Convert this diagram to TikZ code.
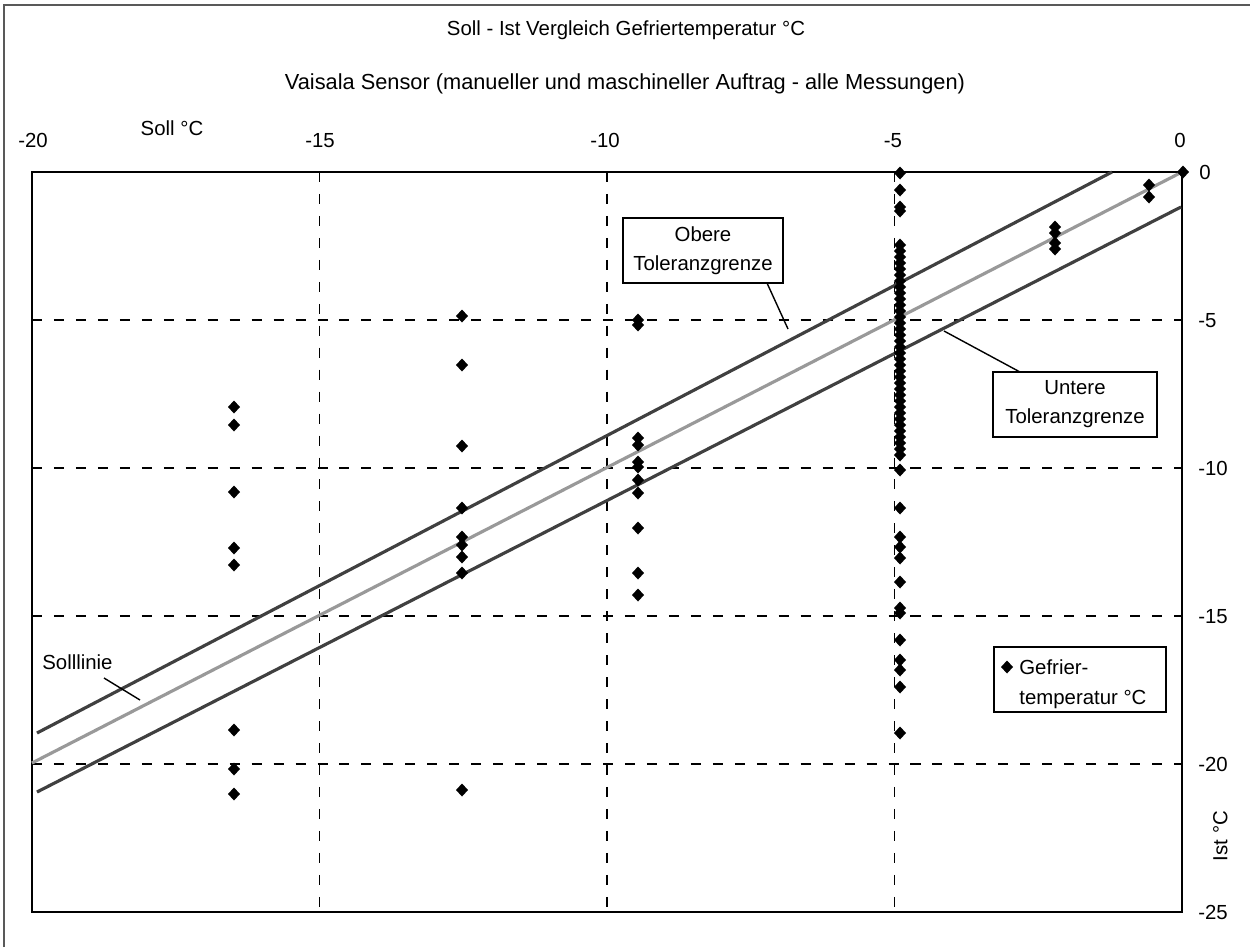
\documentclass[tikz,border=0pt]{standalone}
\usepackage{fontspec}
\setmainfont{Liberation Sans}
\begin{document}
\begin{tikzpicture}[x=0.02cm,y=-0.02cm,
  font=\fontsize{11.6}{16.4}\selectfont,
  gridline/.style={line width=1.1pt, dash pattern=on 5.7pt off 6.8pt},
  plotframe/.style={line width=1.2pt},
  tolline/.style={line width=1.8pt, color=black!75},
  sollline/.style={line width=1.8pt, color=black!40},
  leader/.style={line width=0.8pt},
  lab/.style={inner sep=0pt, text height=8.3pt, text depth=0pt},
  lbox/.style={draw, line width=0.8pt, fill=white, align=center, inner sep=0pt}]
\useasboundingbox (0,0) rectangle (1250,947);
% outer border
\draw[line width=0.7pt, black!65] (4,947) -- (4,5) -- (1250,5);
% titles
\node[lab] (title) at (626,28) {Soll - Ist Vergleich Gefriertemperatur °C};
\node[lab, font=\fontsize{12.4}{15}\selectfont, text height=8.9pt] (subtitle) at (625,82) {Vaisala Sensor (manueller und maschineller Auftrag - alle Messungen)};
% top axis labels
\node[lab] (xa) at (33,140) {-20};
\node[lab] (xb) at (320,140) {-15};
\node[lab] (xc) at (605,140) {-10};
\node[lab] (xd) at (893,140) {-5};
\node[lab] (xe) at (1180,140) {0};
\node[lab] (xtitle) at (172,128) {Soll °C};
% right axis labels
\node[lab, anchor=west] (ya) at (1199,172) {0};
\node[lab, anchor=west] (yb) at (1198,320) {-5};
\node[lab, anchor=west] (yc) at (1198,468) {-10};
\node[lab, anchor=west] (yd) at (1198,616) {-15};
\node[lab, anchor=west] (ye) at (1198,764) {-20};
\node[lab, anchor=west] (yf) at (1198,912) {-25};
\node[lab, rotate=90] (ytitle) at (1220,836) {Ist °C};
% grid
\foreach \gx in {319.5,607,894.5} \draw[gridline] (\gx,172) -- (\gx,912);
\foreach \gy in {320,468,616,764} \draw[gridline] (32,\gy) -- (1182,\gy);
% frame
\draw[plotframe] (32,172) rectangle (1182,912);
% lines
\coordinate (u1) at (37,733); \coordinate (u2) at (1112,172);
\coordinate (l1) at (37,792); \coordinate (l2) at (1181,207);
\coordinate (s1) at (32,763); \coordinate (s2) at (1182,172);
\draw[tolline] (u1) -- (u2);
\draw[tolline] (l1) -- (l2);
\draw[sollline] (s1) -- (s2);
% data
\newcommand{\dmd}[2]{\fill (#1,#2) ++(0,-6.5) -- ++(6,6.5) -- ++(-6,6.5) -- ++(-6,-6.5) -- cycle;}
\foreach \yy in {407,425,492,548,565,730,769,794} {\dmd{234}{\yy}}
\foreach \yy in {316,365,446,508,537,545,557,573,790} {\dmd{462}{\yy}}
\foreach \yy in {320,325,438,445,462,467,480,493,528,573,595} {\dmd{638}{\yy}}
\foreach \yy in {173,190,207,211,245,251,257,263,269,275,281,287,293,299,305,311,317,323,329,335,341,347,353,359,365,371,377,383,389,395,401,407,413,419,425,431,437,443,449,455,470,508,537,547,558,582,608,613,640,660,670,687,733} {\dmd{900}{\yy}}
\foreach \yy in {227,233,243,249} {\dmd{1055}{\yy}}
\foreach \yy in {185,197} {\dmd{1149}{\yy}}
\dmd{1183}{172}
% annotation boxes
\node[lbox, minimum width=3.2cm, minimum height=1.3cm] (obere) at (703,250.5) {Obere\\Toleranzgrenze};
\node[lbox, minimum width=3.28cm, minimum height=1.3cm] (untere) at (1075,404.5) {Untere\\Toleranzgrenze};
\coordinate (ob1) at (767,283); \coordinate (ob2) at (788,329);
\draw[leader] (ob1) -- (ob2);
\coordinate (un1) at (944,331); \coordinate (un2) at (1020,372);
\draw[leader] (un1) -- (un2);
\node[lab, anchor=west] (solllab) at (42,662) {Solllinie};
\coordinate (so1) at (104,678); \coordinate (so2) at (140,700);
\draw[leader] (so1) -- (so2);
% legend
\node[draw, line width=0.8pt, minimum width=3.44cm, minimum height=1.3cm, inner sep=0pt] (legend) at (1080,679.5) {};
\dmd{1007}{667}
\node[lab, anchor=west] (lg1) at (1019,667) {Gefrier-};
\node[lab, anchor=west] (lg2) at (1019,697) {temperatur °C};
\end{tikzpicture}
\end{document}
